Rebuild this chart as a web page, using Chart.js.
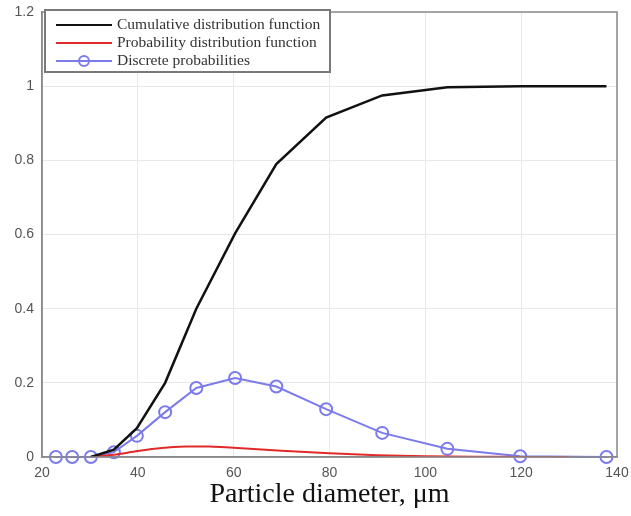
<!DOCTYPE html>
<html>
<head>
<meta charset="utf-8">
<script src="https://cdn.jsdelivr.net/npm/chart.js@4/dist/chart.umd.min.js"></script>
<style>
  html, body { margin: 0; padding: 0; background: #fff; }
  #wrap { width: 631px; height: 516px; }
</style>
</head>
<body>
<div id="wrap"><canvas id="psdChart"></canvas></div>
<script>
// particle diameters (um) of the discrete classes
const discreteX = [22.9, 26.3, 30.2, 35.0, 39.8, 45.7, 52.2, 60.3, 68.9, 79.3, 91.0, 104.6, 119.8, 137.8];
const discreteP = [0, 0, 0, 0.013, 0.057, 0.121, 0.186, 0.213, 0.19, 0.129, 0.065, 0.022, 0.002, 0];

// cumulative distribution
const cdfX = [30.2, 35.0, 39.8, 45.7, 52.2, 60.3, 68.9, 79.3, 91.0, 104.6, 119.8, 137.8];
const cdfY = [0, 0.02, 0.078, 0.2, 0.4, 0.603, 0.79, 0.915, 0.975, 0.997, 1.0, 1.0];

// probability density
const pdfX = [30, 35, 40, 45, 50, 55, 60, 70, 80, 90, 100, 110, 120, 130];
const pdfY = [0, 0.006, 0.016, 0.024, 0.028, 0.028, 0.025, 0.017, 0.01, 0.005, 0.002, 0.001, 0, 0];

const xTicks = [20, 40, 60, 80, 100, 120, 140];
const yTicks = [0, 0.2, 0.4, 0.6, 0.8, 1, 1.2];

const toPts = (xs, ys) => xs.map((x, i) => ({ x: x, y: ys[i] }));

// box around the axes + legend drawn inside, matlab style
const boxLegend = {
  id: 'boxLegend',
  afterDraw(chart) {
    const c = chart.ctx, a = chart.chartArea;
    c.save();
    c.strokeStyle = '#8a8a8a';
    c.lineWidth = 1.5;
    c.strokeRect(a.left, a.top, a.right - a.left, a.bottom - a.top);

    // legend
    const lx = 45, ly = 10, lw = 285, lh = 62;
    c.fillStyle = '#fff';
    c.fillRect(lx, ly, lw, lh);
    c.strokeStyle = '#7a7a7a';
    c.lineWidth = 2;
    c.strokeRect(lx, ly, lw, lh);
    c.font = '15.5px "Liberation Serif", "Times New Roman", serif';
    c.textBaseline = 'middle';
    chart.data.datasets.forEach((ds, i) => {
      const y = ly + 15 + i * 18;
      c.strokeStyle = ds.borderColor;
      c.lineWidth = 2;
      c.beginPath();
      c.moveTo(56, y);
      c.lineTo(112, y);
      c.stroke();
      if (ds.pointRadius > 0) {
        c.beginPath();
        c.arc(84, y, 5, 0, Math.PI * 2);
        c.stroke();
      }
      c.fillStyle = '#333';
      c.fillText(ds.label, 117, y);
    });
    c.restore();
  }
};

const ctx = document.getElementById('psdChart').getContext('2d');

new Chart(ctx, {
  type: 'line',
  data: {
    datasets: [
      {
        label: 'Cumulative distribution function',
        data: toPts(cdfX, cdfY),
        borderColor: '#111111',
        borderWidth: 2.5,
        pointRadius: 0,
        tension: 0
      },
      {
        label: 'Probability distribution function',
        data: toPts(pdfX, pdfY),
        borderColor: '#e02a2a',
        borderWidth: 2,
        pointRadius: 0,
        tension: 0.3
      },
      {
        label: 'Discrete probabilities',
        data: toPts(discreteX, discreteP),
        borderColor: '#7b7bec',
        borderWidth: 2,
        pointRadius: 6,
        pointBorderWidth: 2,
        pointBackgroundColor: 'rgba(255,255,255,0)',
        pointBorderColor: '#7b7bec',
        tension: 0,
        clip: false
      }
    ]
  },
  options: {
    responsive: true,
    maintainAspectRatio: false,
    animation: false,
    layout: { padding: { top: 12, right: 14, left: 0, bottom: 5 } },
    plugins: {
      legend: { display: false },
      tooltip: { enabled: false }
    },
    scales: {
      x: {
        type: 'linear',
        min: 20,
        max: 140,
        afterBuildTicks: s => { s.ticks = xTicks.map(v => ({ value: v })); },
        afterFit: s => { s.height = 54; s.paddingRight = 0; s.paddingLeft = 0; },
        grid: { color: '#e8e8e8', drawTicks: false },
        border: { color: '#8a8a8a', width: 1.5 },
        ticks: {
          color: '#555',
          padding: 8,
          font: { family: '"Liberation Sans", Arial, sans-serif', size: 14 }
        },
        title: {
          display: true,
          text: 'Particle diameter, μm',
          color: '#111',
          padding: { top: 0, bottom: 0 },
          font: { family: '"Liberation Serif", "Times New Roman", serif', size: 28 }
        }
      },
      y: {
        type: 'linear',
        min: 0,
        max: 1.2,
        afterBuildTicks: s => { s.ticks = yTicks.map(v => ({ value: v })); },
        afterFit: s => { s.width = 42; s.paddingTop = 0; s.paddingBottom = 0; },
        grid: { color: '#e8e8e8', drawTicks: false },
        border: { color: '#8a8a8a', width: 1.5 },
        ticks: {
          color: '#555',
          padding: 8,
          font: { family: '"Liberation Sans", Arial, sans-serif', size: 14 },
          callback: v => String(Math.round(v * 10) / 10)
        }
      }
    }
  },
  plugins: [boxLegend]
});
</script>
</body>
</html>
